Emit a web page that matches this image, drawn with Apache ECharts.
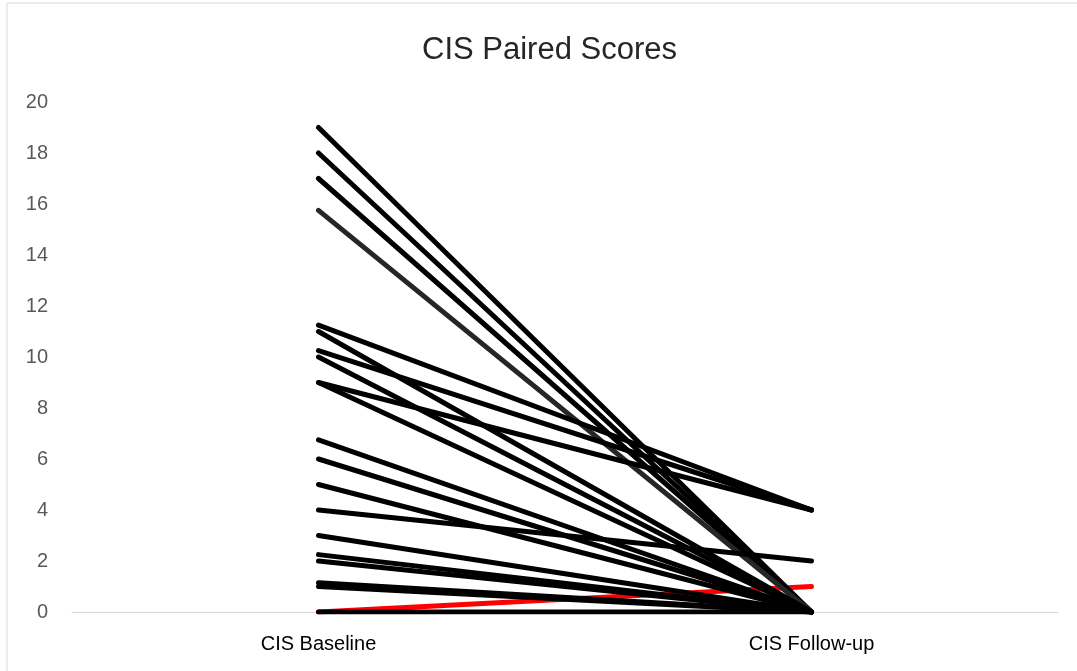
<!DOCTYPE html>
<html><head><meta charset="utf-8">
<script src="https://cdn.jsdelivr.net/npm/echarts@6/dist/echarts.min.js"></script>
<style>html,body{margin:0;padding:0;background:#fff}#c{width:1077px;height:671px}</style>
</head><body><div id="c"></div>
<script>
var categories = ['CIS Baseline', 'CIS Follow-up'];
var baseline = [0, 19, 18, 17, 15.75, 11.25, 11.0, 10.25, 10.0, 9.0, 9.0, 6.75, 6.0, 5.0, 4.0, 3.0, 2.25, 2.0, 1.15, 1.0, 0];
var followUp = [1, 0, 0, 0, 0, 4, 0, 4, 0, 4, 0, 0, 0, 0, 2, 0, 0, 0, 0, 0, 0];
var lineColors = ['#ff0000', '#000000', '#000000', '#000000', '#262626', '#000000', '#000000', '#000000', '#000000', '#000000', '#000000', '#000000', '#000000', '#000000', '#000000', '#000000', '#000000', '#000000', '#000000', '#000000', '#000000'];
var yTicks = [0, 2, 4, 6, 8, 10, 12, 14, 16, 18, 20];

var series = baseline.map(function (b, i) {
  return {
    type: 'line',
    data: [b, followUp[i]],
    symbol: 'none',
    silent: true,
    z: i === 0 ? 1 : 2,
    lineStyle: { color: lineColors[i], width: 5, cap: 'round', join: 'round' }
  };
});

var chart = echarts.init(document.getElementById('c'), null, { renderer: 'canvas' });
chart.setOption({
  animation: false,
  backgroundColor: '#fff',
  graphic: [{
    type: 'rect', shape: { x: 7, y: 3, width: 1100, height: 700 },
    style: { fill: 'none', stroke: '#d9d9d9', lineWidth: 1 }, silent: true, z: -10
  }],
  title: {
    text: 'CIS Paired Scores', left: 417, top: 30,
    textStyle: { fontFamily: 'Liberation Sans', fontSize: 31, fontWeight: 'normal', color: '#262626' }
  },
  grid: { left: 72, right: 19, top: 102, bottom: 59, containLabel: false },
  xAxis: {
    type: 'category', data: categories, boundaryGap: true,
    axisLine: { lineStyle: { color: '#d9d9d9', width: 1 } },
    axisTick: { show: false },
    axisLabel: { fontFamily: 'Liberation Sans', fontSize: 20, color: '#000', margin: 22 }
  },
  yAxis: {
    type: 'value', min: 0, max: 20, interval: 2,
    axisLine: { show: false }, axisTick: { show: false },
    splitLine: { show: false },
    axisLabel: {
      fontFamily: 'Liberation Sans', fontSize: 20, color: '#595959', margin: 24,
      formatter: function (v) { return yTicks.indexOf(v) >= 0 ? String(v) : ''; }
    }
  },
  series: series
});
</script></body></html>
